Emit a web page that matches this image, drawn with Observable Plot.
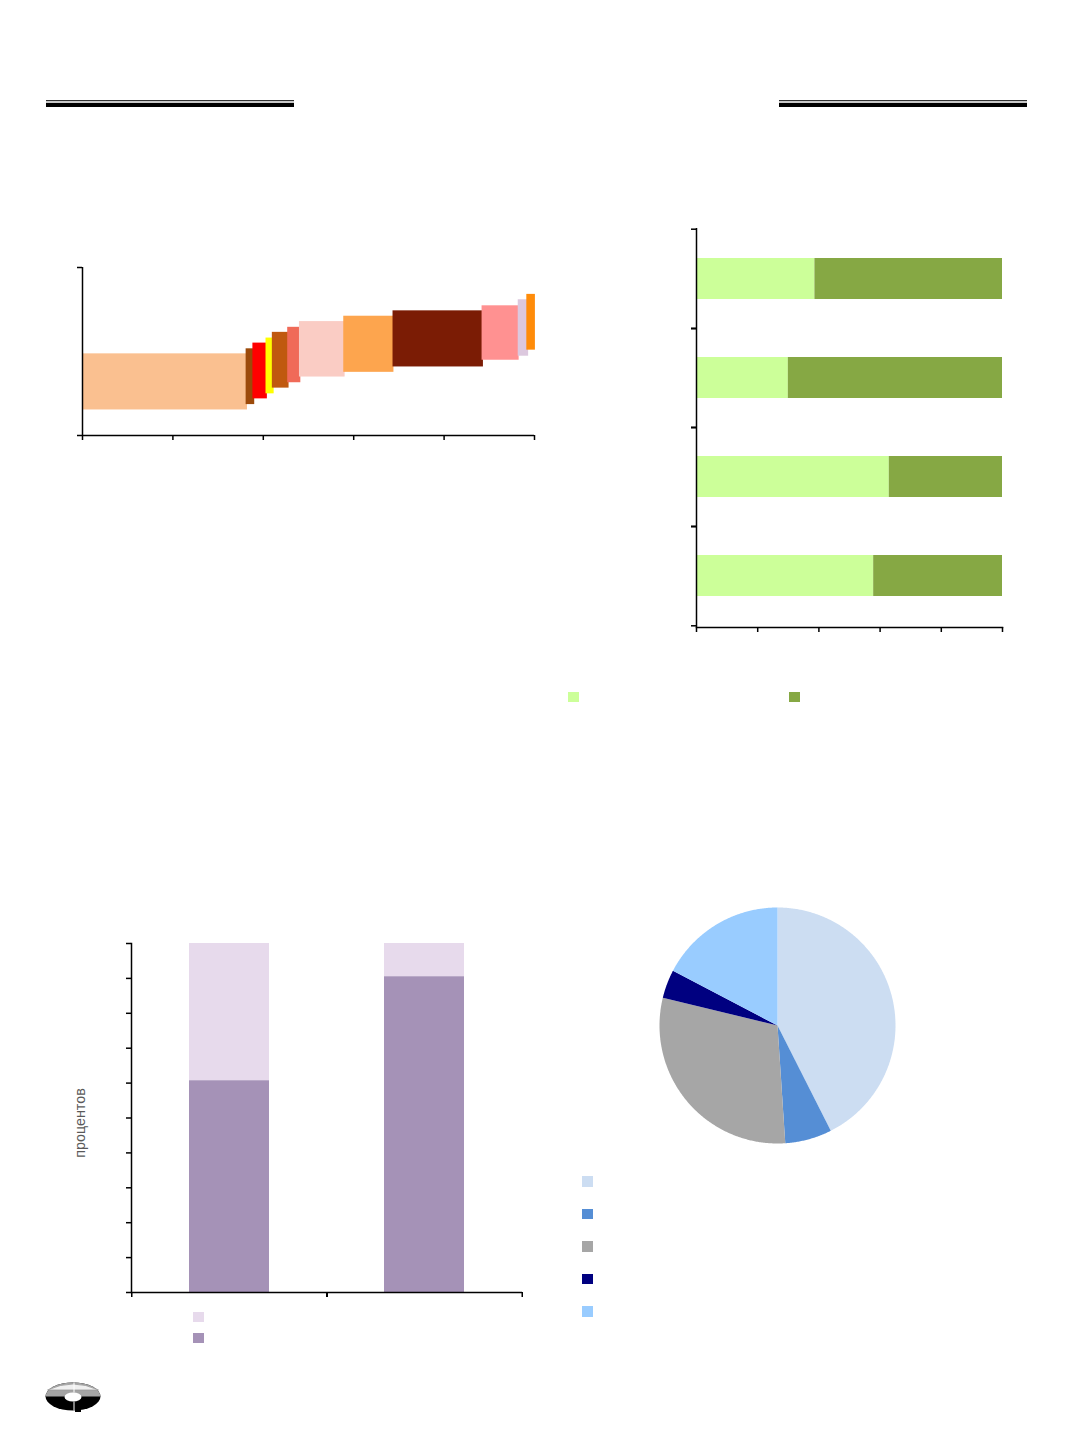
<!DOCTYPE html>
<html><head><meta charset="utf-8">
<script src="https://cdn.jsdelivr.net/npm/d3@7"></script>
<script src="https://cdn.jsdelivr.net/npm/@observablehq/plot@0.6"></script>
<style>
body{margin:0;background:#fff;}
#page{position:relative;width:1072px;height:1433px;overflow:hidden;background:#fff;font-family:"Liberation Sans",Arial,sans-serif;}
.abs{position:absolute;}
.abs svg{overflow:visible;}
</style></head><body><div id="page"></div>
<script>
// ---------- Chart 1: variable-width floating bars ----------
const segStart = [0, 36.2, 37.7, 40.6, 42.0, 45.4, 48.0, 57.8, 68.7, 88.4, 96.4, 98.3];
const segEnd   = [36.5, 38.1, 40.9, 42.4, 45.7, 48.3, 58.1, 68.9, 88.7, 96.6, 98.7, 100.2];
const segLow   = [7.6, 9.2, 10.9, 12.4, 14.1, 15.7, 17.4, 18.8, 20.4, 22.4, 23.6, 25.4];
const segHigh  = [24.3, 25.8, 27.5, 29.0, 30.7, 32.2, 33.9, 35.5, 37.1, 38.6, 40.4, 42.0];
const segColors = ["#FAC090","#9C4A0A","#FF0000","#FFFF00","#C0590F","#F06A58","#FACCC4","#FDA54E","#7B1C05","#FF9191","#DCC8DE","#FF8C0A"];
const x1Ticks = [0, 20, 40, 60, 80, 100];
const y1Ticks = [0, 50];

// ---------- Chart 2: horizontal 100% stacked bars ----------
const barCats = ["1", "2", "3", "4"];
const lightShare = [38.7, 30.0, 63.0, 57.9];
const darkShare  = [61.3, 70.0, 37.0, 42.1];
const x2Ticks = [0, 20, 40, 60, 80, 100];

// ---------- Chart 3: vertical 100% stacked columns ----------
const colCats = ["1", "2"];
const lowerPart = [60.7, 90.5];
const upperPart = [39.3, 9.5];
const y3Ticks = [0, 10, 20, 30, 40, 50, 60, 70, 80, 90, 100];
const yLabel3 = "процентов";

// ---------- Chart 4: pie ----------
const pieNames  = ["p1", "p2", "p3", "p4", "p5"];
const pieValues = [42.5, 6.4, 29.8, 3.9, 17.3];
const pieColors = ["#CCDDF2", "#558ED5", "#A6A6A6", "#000080", "#99CCFF"];

const page = document.getElementById("page");
function place(node, left, top) {
  const d = document.createElement("div");
  d.className = "abs";
  d.style.left = left + "px"; d.style.top = top + "px";
  d.appendChild(node); page.appendChild(d); return d;
}
function box(left, top, w, h, color) {
  const d = document.createElement("div");
  d.className = "abs";
  Object.assign(d.style, {left: left + "px", top: top + "px", width: w + "px", height: h + "px", background: color});
  page.appendChild(d);
}
const AX = {stroke: "#000", strokeWidth: 1.5};
const NOTEXT = {fill: "none", tickFormat: () => "", label: null};

// header rules
for (const [l, w] of [[46, 248], [779, 248]]) {
  box(l, 100, w, 1, "#333");
  box(l, 101, w, 2, "#c8c8c8");
  box(l, 103, w, 3.6, "#000");
}

// Chart 1
const segs = segStart.map((s, i) => ({x1: s, x2: segEnd[i], y1: segLow[i], y2: segHigh[i], c: segColors[i]}));
place(Plot.plot({
  width: 560, height: 220, marginLeft: 82, marginRight: 26, marginTop: 27, marginBottom: 25,
  x: {domain: [0, 100]}, y: {domain: [0, 50]},
  color: {type: "identity"},
  marks: [
    Plot.rect(segs, {x1: "x1", x2: "x2", y1: "y1", y2: "y2", fill: "c"}),
    Plot.ruleX([0], AX),
    Plot.ruleY([0], AX),
    Plot.axisX({ticks: x1Ticks, tickSize: 5, ...NOTEXT, ...AX}),
    Plot.axisY({ticks: y1Ticks, tickSize: 5, ...NOTEXT, ...AX})
  ]
}), 0, 240);

// Chart 2
const rows2 = barCats.flatMap((c, i) => [
  {cat: c, s: "light", v: lightShare[i]},
  {cat: c, s: "dark", v: darkShare[i]}
]);
place(Plot.plot({
  width: 420, height: 440, marginLeft: 56, marginRight: 58, marginTop: 18, marginBottom: 23,
  x: {domain: [0, 100]},
  y: {domain: barCats, paddingInner: 0.583, paddingOuter: 0.29},
  color: {domain: ["light", "dark"], range: ["#CCFF99", "#86A844"]},
  marks: [
    Plot.barX(rows2, {x: "v", y: "cat", fill: "s"}),
    Plot.ruleX([0], AX),
    Plot.frame({anchor: "bottom", ...AX}),
    Plot.axisX({ticks: x2Ticks, tickSize: 5, ...NOTEXT, ...AX}),
    Plot.axisY({tickSize: 5, dy: -49.8, ...NOTEXT, ...AX}),
    Plot.axisY({tickSize: 5, dy: 49.8, ...NOTEXT, ...AX})
  ]
}), 640, 210);
box(568.3, 691.5, 10.5, 10.5, "#CCFF99");
box(789, 691.5, 10.5, 10.5, "#86A844");

// Chart 3
const rows3 = colCats.flatMap((c, i) => [
  {cat: c, s: "lower", v: lowerPart[i]},
  {cat: c, s: "upper", v: upperPart[i]}
]);
place(Plot.plot({
  width: 500, height: 400, marginLeft: 91, marginRight: 18, marginTop: 23, marginBottom: 28,
  x: {domain: colCats, paddingInner: 0.59, paddingOuter: 0.295},
  y: {domain: [0, 100]},
  color: {domain: ["lower", "upper"], range: ["#A592B7", "#E7DAEC"]},
  marks: [
    Plot.barY(rows3, {x: "cat", y: "v", fill: "s"}),
    Plot.ruleY([0], AX),
    Plot.frame({anchor: "left", ...AX}),
    Plot.axisY({ticks: y3Ticks, tickSize: 5, ...NOTEXT, ...AX}),
    Plot.axisX({tickSize: 5, dx: -97.75, ...NOTEXT, ...AX}),
    Plot.axisX({tickSize: 5, dx: 97.75, ...NOTEXT, ...AX}),
    Plot.text([yLabel3], {frameAnchor: "left", textAnchor: "middle", rotate: -90, dx: -51, dy: 5, fill: "#595959", fontSize: 14.3, fontFamily: "Liberation Sans, Arial, sans-serif"})
  ]
}), 40, 920);
box(193, 1311.5, 10.5, 10.5, "#E7DAEC");
box(193, 1332.5, 10.5, 10.5, "#A592B7");

// Chart 4: pie built from d3.pie angles, drawn through Plot's x/y scales
const arcs = d3.pie().sort(null)(pieValues);
const piePts = [];
arcs.forEach((a, i) => {
  const name = pieNames[i];
  piePts.push({name, x: 0, y: 0});
  const n = Math.max(2, Math.ceil((a.endAngle - a.startAngle) / (Math.PI / 360)));
  for (let k = 0; k <= n; k++) {
    const t = a.startAngle + (a.endAngle - a.startAngle) * k / n;
    piePts.push({name, x: Math.sin(t), y: Math.cos(t)});
  }
  piePts.push({name, x: 0, y: 0});
});
place(Plot.plot({
  width: 276, height: 276, marginLeft: 20, marginRight: 20, marginTop: 20, marginBottom: 20,
  x: {domain: [-1, 1], axis: null}, y: {domain: [-1, 1], axis: null},
  color: {domain: pieNames, range: pieColors},
  marks: [
    Plot.line(piePts, {x: "x", y: "y", z: "name", fill: "name", stroke: null})
  ]
}), 639, 887);
[1176, 1208.5, 1241, 1273.5, 1306].forEach((t, i) => box(582, t, 10.5, 10.5, pieColors[i]));

// logo
const logo = document.createElement("div");
logo.className = "abs";
logo.style.left = "44px"; logo.style.top = "1380px";
logo.innerHTML = `<svg width="62" height="36" viewBox="0 0 62 36">
  <defs><clipPath id="lt"><rect x="0" y="0" width="62" height="16.5"/></clipPath></defs>
  <ellipse cx="29" cy="16.5" rx="27.5" ry="14" fill="#000"/>
  <ellipse cx="29" cy="16.5" rx="27.5" ry="14" fill="#a4a4a4" clip-path="url(#lt)"/>
  <path d="M3.5 10 Q29 -2 54.5 10 Z" fill="#f0f0f0" stroke="#999" stroke-width="0.8"/>
  <ellipse cx="29" cy="17" rx="8.5" ry="4.5" fill="#fff"/>
  <line x1="30" y1="2.5" x2="30" y2="12.5" stroke="#fff" stroke-width="1"/>
  <line x1="30" y1="21.5" x2="30" y2="30.5" stroke="#fff" stroke-width="1"/>
  <rect x="31" y="28" width="6" height="4" fill="#000"/>
</svg>`;
page.appendChild(logo);
</script>
</body></html>
